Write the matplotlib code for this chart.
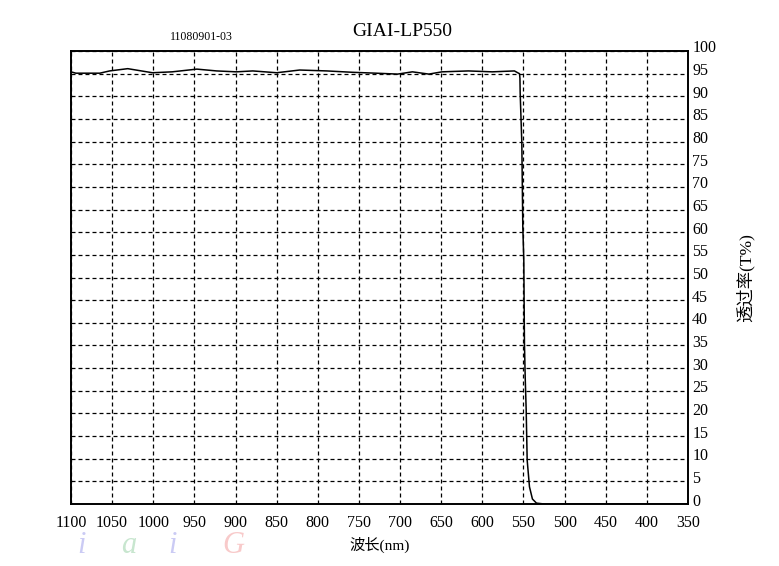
import matplotlib
matplotlib.use('Agg')
import matplotlib.pyplot as plt
import matplotlib.transforms as mtransforms

# fuentes: serif para numeros, CJK para los textos chinos
plt.rcParams['font.family'] = ['Liberation Serif', 'Noto Sans CJK SC', 'DejaVu Sans']

# datos (longitud de onda en nm, transmitancia en %)
longitud = [1100, 1094, 1065, 1053, 1031, 1001, 977, 947, 923, 899, 879, 850,
            822, 789, 758, 729, 703, 685, 665, 649, 617, 588, 561, 556,
            554.8, 554.3, 554.0, 552.0, 550.8, 549.6, 548.8, 547.9, 546.7,
            545.5, 542.7, 539.1, 534.2, 524.5, 350]
transmitancia = [95.4, 95.1, 95.1, 95.6, 96.1, 95.2, 95.4, 96.0, 95.6, 95.4,
                 95.6, 95.2, 95.8, 95.6, 95.3, 95.1, 94.9, 95.4, 94.9, 95.4,
                 95.6, 95.4, 95.6, 95.1, 95.0, 94.0, 90.7, 79.7, 61.0, 54.0,
                 35.5, 28.0, 20.8, 9.7, 3.8, 1.1, 0.2, 0.0, 0.0]

x_ticks = list(range(350, 1101, 50))
y_ticks = list(range(0, 101, 5))

titulo = 'GIAI-LP550'
lote = '11080901-03'
etiqueta_x = '波长(nm)'
etiqueta_y = '透过率(T%)'

# marca de agua (letras y colores)
marca_letras = ['i', 'a', 'i', 'G']
marca_colores = ['#8c8ce8', '#86c896', '#8c8ce8', '#f08a8a']
marca_x = [0.105, 0.165, 0.222, 0.300]

fig = plt.figure(figsize=(7.79, 5.66), dpi=100)
ax = fig.add_axes([0.0911, 0.1095, 0.7921, 0.8004])

ax.plot(longitud, transmitancia, color='black', lw=1.1, zorder=3)

# eje x invertido, eje y a la derecha
ax.set_xlim(1100, 350)
ax.set_ylim(0, 100)
ax.set_xticks(x_ticks)
ax.set_yticks(y_ticks)
ax.yaxis.tick_right()
ax.yaxis.set_label_position('right')
ax.tick_params(axis='both', length=0, labelsize=11.5)
ax.tick_params(axis='x', pad=8)
ax.tick_params(axis='y', pad=3)

# las etiquetas de y van un poco por encima de su linea
desplaza = mtransforms.ScaledTranslation(0, 0.045, fig.dpi_scale_trans)
for lab in ax.get_yticklabels():
    lab.set_transform(lab.get_transform() + desplaza)

ax.grid(True, color='black', lw=0.9, linestyle=(0, (3.2, 2.4)))
for s in ax.spines.values():
    s.set_linewidth(1.4)

ax.set_xlabel(etiqueta_x, fontsize=11, labelpad=4)
ax.set_ylabel(etiqueta_y, fontsize=12.5, rotation=90, labelpad=14)

fig.text(0.516, 0.944, titulo, fontsize=14, ha='center', va='center')
fig.text(0.259, 0.934, lote, fontsize=8.5, ha='center', va='center')

# marca de agua debajo de los numeros del eje x
for letra, col, xx in zip(marca_letras, marca_colores, marca_x):
    fig.text(xx, 0.01, letra, fontsize=22, style='italic', color=col,
             alpha=0.45, ha='center', va='bottom', zorder=0,
             family=['Liberation Serif'])

fig.savefig('out.png', dpi=100)
